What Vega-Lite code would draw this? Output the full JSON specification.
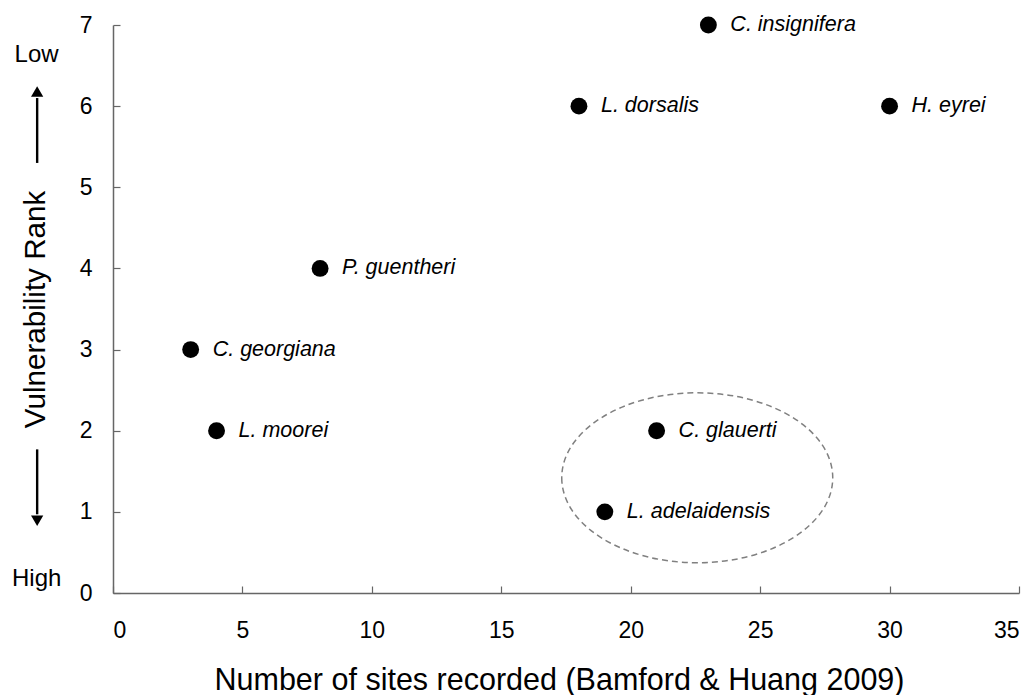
{
  "$schema": "https://vega.github.io/schema/vega-lite/v6.json",
  "width": 906,
  "height": 568,
  "autosize": {"type": "none"},
  "padding": {"left": 113, "top": 25, "right": 15, "bottom": 102},
  "background": "white",
  "config": {
    "view": {"stroke": null},
    "font": "Liberation Sans",
    "axis": {"grid": false, "domainColor": "#666666", "tickColor": "#666666", "labelColor": "black", "titleColor": "black", "labelFont": "Liberation Sans", "titleFont": "Liberation Sans", "labelFontSize": 23, "titleFontSize": 29, "titleFontWeight": "normal", "tickSize": -7, "domainWidth": 1.5, "tickWidth": 1.2}
  },
  "datasets": {
    "species": [
      {"sites": 23, "rank": 7, "name": "C. insignifera"},
      {"sites": 18, "rank": 6, "name": "L. dorsalis"},
      {"sites": 30, "rank": 6, "name": "H. eyrei"},
      {"sites": 8, "rank": 4, "name": "P. guentheri"},
      {"sites": 3, "rank": 3, "name": "C. georgiana"},
      {"sites": 4, "rank": 2, "name": "L. moorei"},
      {"sites": 21, "rank": 2, "name": "C. glauerti"},
      {"sites": 19, "rank": 1, "name": "L. adelaidensis"}
    ],
    "ellipse": [{"sites": 22.57, "rank": 1.42}],
    "endLabels": [
      {"sites": -2.95, "rank": 6.63, "label": "Low"},
      {"sites": -2.95, "rank": 0.17, "label": "High"}
    ],
    "arrows": [
      {"sites": -2.93, "from": 5.3, "to": 6.1},
      {"sites": -2.93, "from": 1.77, "to": 0.97}
    ],
    "heads": [
      {"sites": -2.93, "rank": 6.18, "dir": "triangle-up"},
      {"sites": -2.93, "rank": 0.89, "dir": "triangle-down"}
    ]
  },
  "layer": [
    {
      "data": {"name": "ellipse"},
      "mark": {"type": "point", "shape": "M -1 0 A 1 0.627 0 1 0 1 0 A 1 0.627 0 1 0 -1 0 Z", "size": 73441, "filled": false, "stroke": "#808080", "strokeWidth": 1.5, "strokeDash": [6, 4], "opacity": 1},
      "encoding": {
        "x": {"field": "sites", "type": "quantitative", "scale": {"domain": [0, 35], "nice": false}, "axis": {"values": [0, 5, 10, 15, 20, 25, 30, 35], "format": "d", "labelFontSize": 23, "titleFontSize": 30.5, "title": "Number of sites recorded (Bamford & Huang 2009)", "titlePadding": 23, "labelPadding": 33, "titleX": 446, "titleAlign": "center", "titleAnchor": "start"}},
        "y": {"field": "rank", "type": "quantitative", "scale": {"domain": [0, 7], "nice": false}, "axis": {"values": [0, 1, 2, 3, 4, 5, 6, 7], "format": "d", "labelFontSize": 23, "titleFontSize": 29.6, "title": "Vulnerability Rank", "titlePadding": 29, "labelPadding": 28}}
      }
    },
    {
      "data": {"name": "species"},
      "mark": {"type": "point", "filled": true, "color": "black", "size": 285, "opacity": 1},
      "encoding": {
        "x": {"field": "sites", "type": "quantitative"},
        "y": {"field": "rank", "type": "quantitative"}
      }
    },
    {
      "data": {"name": "species"},
      "mark": {"type": "text", "align": "left", "baseline": "middle", "dx": 22, "fontSize": 21.5, "fontStyle": "italic", "color": "black"},
      "encoding": {
        "x": {"field": "sites", "type": "quantitative"},
        "y": {"field": "rank", "type": "quantitative"},
        "text": {"field": "name"}
      }
    },
    {
      "data": {"name": "endLabels"},
      "mark": {"type": "text", "align": "center", "baseline": "middle", "fontSize": 24, "color": "black"},
      "encoding": {
        "x": {"field": "sites", "type": "quantitative"},
        "y": {"field": "rank", "type": "quantitative"},
        "text": {"field": "label"}
      }
    },
    {
      "data": {"name": "arrows"},
      "mark": {"type": "rule", "color": "black", "strokeWidth": 2.4},
      "encoding": {
        "x": {"field": "sites", "type": "quantitative"},
        "y": {"field": "from", "type": "quantitative"},
        "y2": {"field": "to"}
      }
    },
    {
      "data": {"name": "heads"},
      "mark": {"type": "point", "filled": true, "color": "black", "size": 150, "opacity": 1},
      "encoding": {
        "x": {"field": "sites", "type": "quantitative"},
        "y": {"field": "rank", "type": "quantitative"},
        "shape": {"field": "dir", "type": "nominal", "scale": null, "legend": null}
      }
    }
  ]
}
